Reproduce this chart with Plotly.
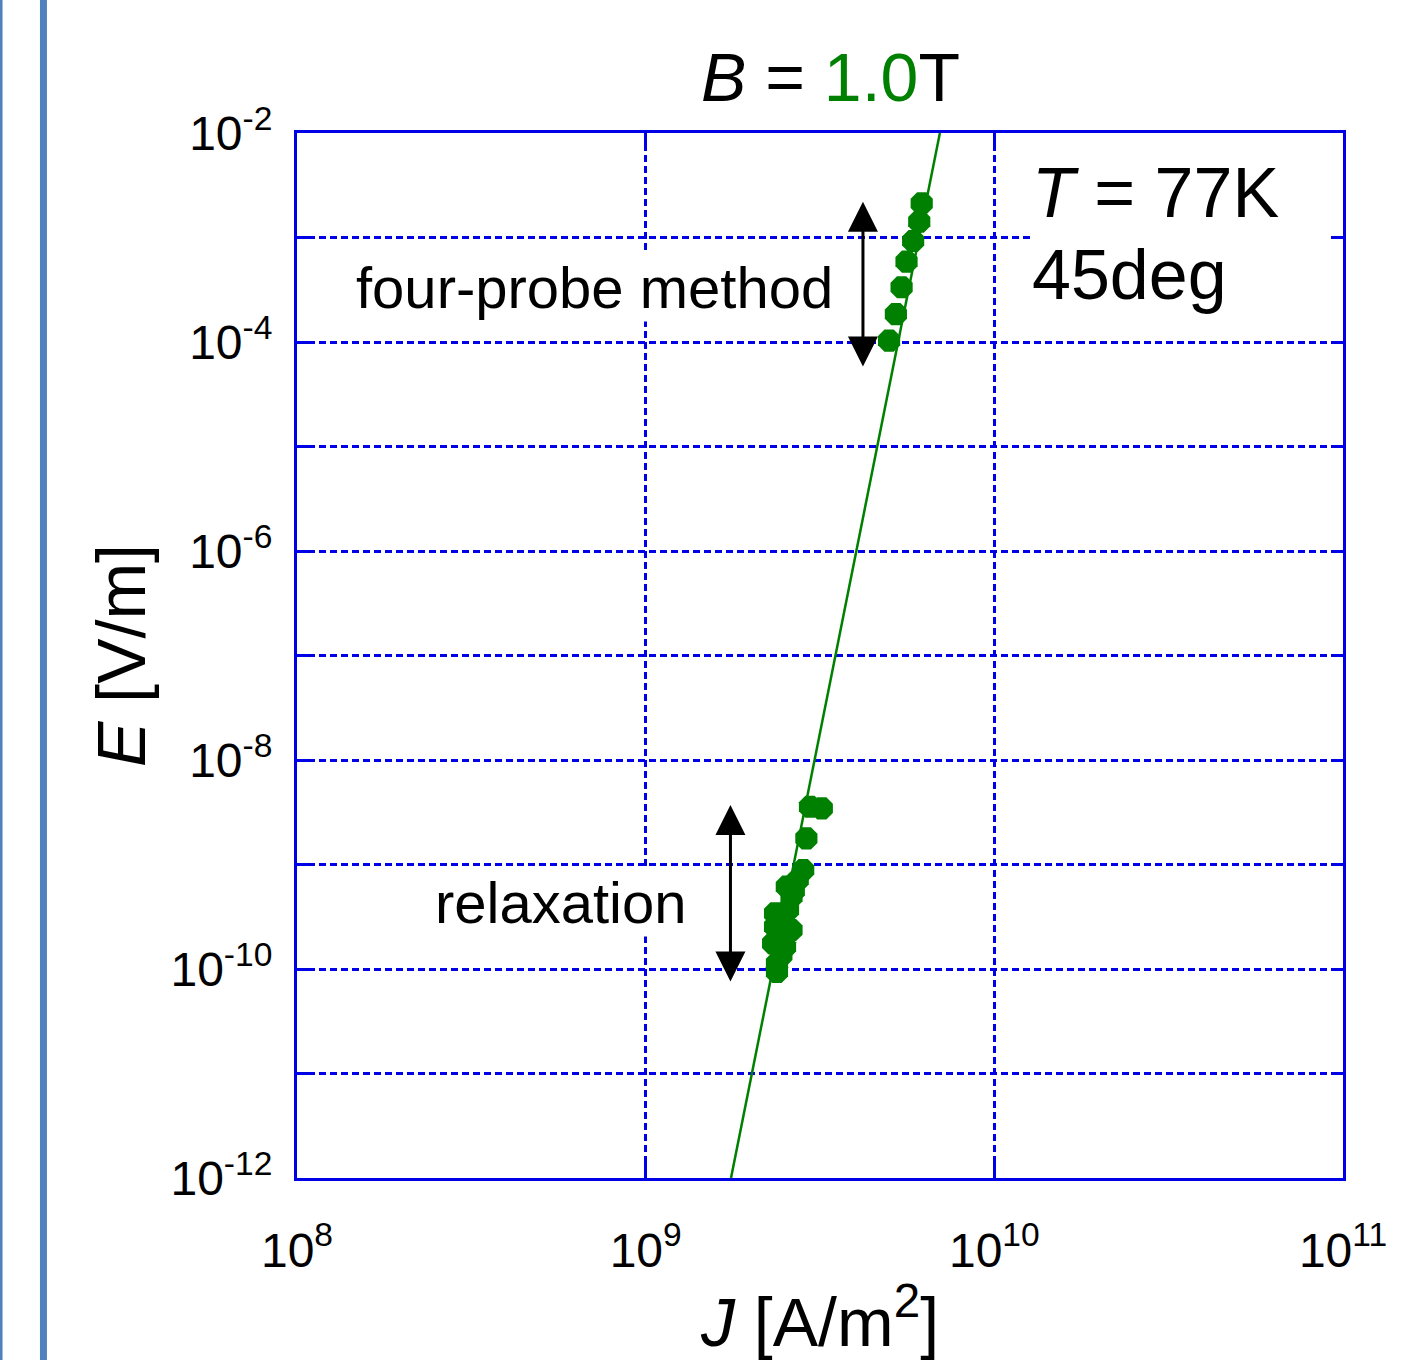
import plotly.graph_objects as go

# ---- data ----
fourprobe_J = [6.19e9, 6.09e9, 5.85e9, 5.60e9, 5.42e9, 5.22e9, 4.99e9]
fourprobe_E = [2.12e-3, 1.42e-3, 9.26e-4, 5.87e-4, 3.34e-4, 1.85e-4, 1.03e-4]

relax_J = [3.20e9, 2.96e9, 2.89e9, 2.83e9, 2.73e9, 2.54e9, 2.62e9, 2.35e9, 2.56e9,
           2.62e9, 2.35e9, 2.32e9, 2.51e9, 2.38e9, 2.38e9, 2.45e9, 2.42e9, 2.66e9]
relax_E = [3.45e-9, 3.57e-9, 1.78e-9, 8.86e-10, 7.11e-10, 6.14e-10, 4.92e-10, 3.41e-10, 3.67e-10,
           2.36e-10, 2.54e-10, 1.76e-10, 1.63e-10, 1.13e-10, 9.4e-11, 1.35e-10, 2.9e-10, 5.6e-10]

fit_J = [1.757e9, 6.98e9]
fit_E = [1e-12, 1e-2]

x_tickvals = [1e8, 1e9, 1e10, 1e11]
x_ticktext = ["10<sup>8</sup>", "10<sup>9</sup>", "10<sup>10</sup>", "10<sup>11</sup>"]
y_tickvals = [1e-12, 1e-11, 1e-10, 1e-9, 1e-8, 1e-7, 1e-6, 1e-5, 1e-4, 1e-3, 1e-2]
y_ticktext = ["10<sup>-12</sup>", "", "10<sup>-10</sup>", "", "10<sup>-8</sup>", "",
              "10<sup>-6</sup>", "", "10<sup>-4</sup>", "", "10<sup>-2</sup>"]

GREEN = "#008000"
BLUE = "#0000E6"
FONT = "Liberation Sans, Arial, sans-serif"

fig = go.Figure()
fig.add_trace(go.Scatter(x=fit_J, y=fit_E, mode="lines",
                         line=dict(color=GREEN, width=2.5), showlegend=False))
fig.add_trace(go.Scatter(x=relax_J, y=relax_E, mode="markers",
                         marker=dict(symbol="octagon", size=24, color=GREEN,
                                     line=dict(width=0)), showlegend=False))
fig.add_trace(go.Scatter(x=fourprobe_J, y=fourprobe_E, mode="markers",
                         marker=dict(symbol="octagon", size=24, color=GREEN,
                                     line=dict(width=0)), showlegend=False))

axis_common = dict(
    type="log", showline=True, linecolor=BLUE, linewidth=3, mirror="ticks",
    showgrid=True, gridcolor=BLUE, gridwidth=2.5, griddash="7px,4px",
    ticks="inside", tickcolor=BLUE, tickwidth=2.5, zeroline=False,
    tickfont=dict(family=FONT, size=48, color="black"),
)

fig.update_xaxes(**axis_common, range=[8, 11], tickmode="array",
                 tickvals=x_tickvals, ticktext=x_ticktext, ticklen=15,
                 ticklabelstandoff=28,
                 title=dict(text="<i>J</i> [A/m<sup>2</sup>]",
                            font=dict(family=FONT, size=68, color="black"),
                            standoff=32))
fig.update_yaxes(**axis_common, range=[-12, -2], tickmode="array",
                 tickvals=y_tickvals, ticktext=y_ticktext, ticklen=12,
                 ticklabelstandoff=12,
                 title=dict(text="<i>E</i> [V/m]",
                            font=dict(family=FONT, size=68, color="black"),
                            standoff=3))

annotations = [
    dict(text="<i>B</i> = <span style='color:#008000'>1.0</span>T",
         xref="paper", yref="paper", x=0.5096, y=1.054, xanchor="center", yanchor="middle",
         showarrow=False, font=dict(family=FONT, size=68, color="black")),
    dict(text="<i>T</i> = 77K", xref="paper", yref="paper", x=0.7008, y=0.9426,
         xanchor="left", yanchor="middle", align="left", width=296, bgcolor="white",
         showarrow=False, font=dict(family=FONT, size=70, color="black")),
    dict(text="45deg", xref="paper", yref="paper", x=0.7008, y=0.8641,
         xanchor="left", yanchor="middle", align="left", width=296, bgcolor="white",
         showarrow=False, font=dict(family=FONT, size=70, color="black")),
    dict(text="four-probe method", xref="paper", yref="paper", x=0.5143, y=0.8517,
         xanchor="right", yanchor="middle", bgcolor="white",
         showarrow=False, font=dict(family=FONT, size=58, color="black")),
    dict(text="relaxation", xref="paper", yref="paper", x=0.3738, y=0.2632,
         xanchor="right", yanchor="middle", bgcolor="white",
         showarrow=False, font=dict(family=FONT, size=58, color="black")),
    # double-headed arrows
    dict(x=9.6232, y=-2.657, ax=9.6232, ay=-4.249, xref="x", yref="y", axref="x", ayref="y",
         text="", showarrow=True, arrowhead=2, startarrowhead=2, arrowside="end+start",
         arrowsize=2.0, startarrowsize=2.0, arrowwidth=3, arrowcolor="black"),
    dict(x=9.2432, y=-8.431, ax=9.2432, ay=-10.134, xref="x", yref="y", axref="x", ayref="y",
         text="", showarrow=True, arrowhead=2, startarrowhead=2, arrowside="end+start",
         arrowsize=2.0, startarrowsize=2.0, arrowwidth=3, arrowcolor="black"),
]

shapes = [
    dict(type="line", xref="paper", yref="paper", x0=-0.2424, x1=-0.2424, y0=-0.3, y1=1.3,
         line=dict(color="#4F81BD", width=7)),
    dict(type="line", xref="paper", yref="paper", x0=-0.2839, x1=-0.2839, y0=-0.3, y1=1.3,
         line=dict(color="#4F81BD", width=5)),
]

fig.update_layout(
    width=1421, height=1360, autosize=False,
    margin=dict(l=297, r=78, t=133, b=182, autoexpand=False),
    paper_bgcolor="white", plot_bgcolor="white",
    annotations=annotations, shapes=shapes, showlegend=False,
    font=dict(family=FONT, color="black"),
)

fig.write_html("out.html")
